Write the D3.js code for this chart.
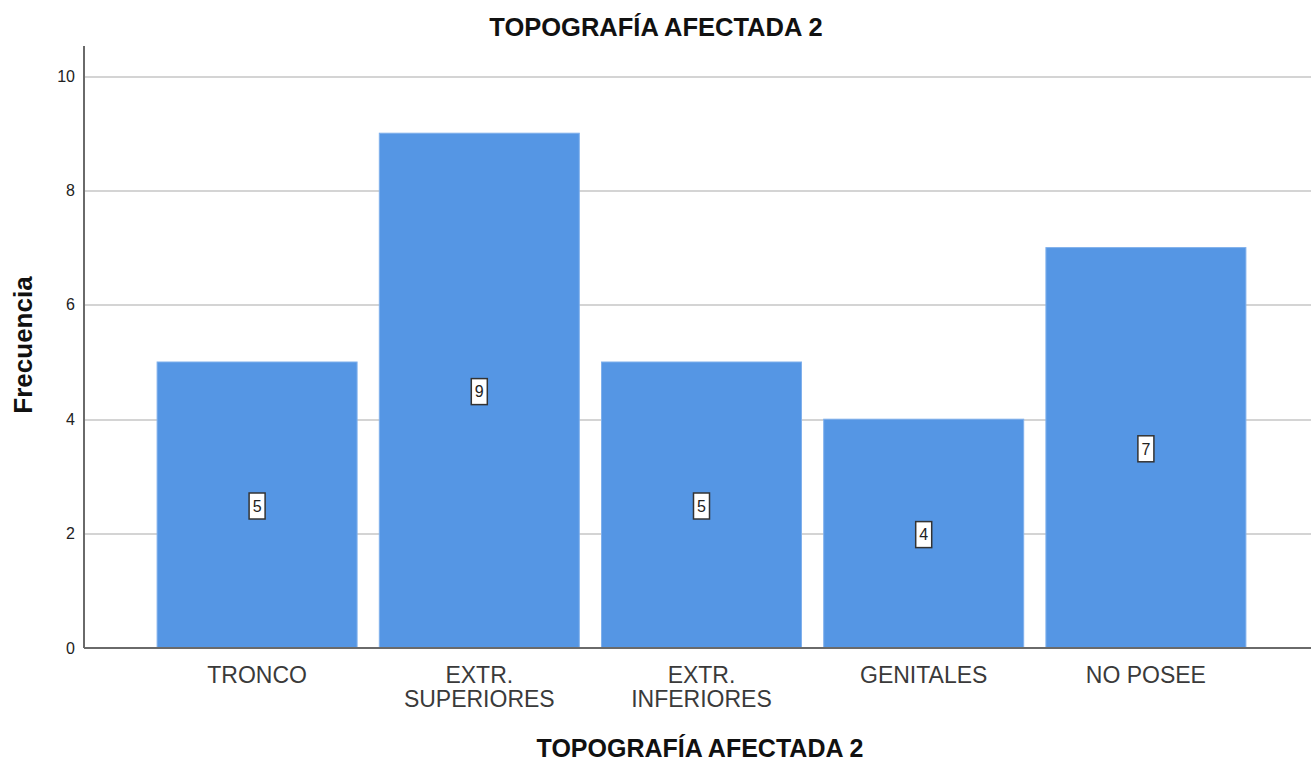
<!DOCTYPE html>
<meta charset="utf-8">
<style>
  body { margin: 0; background: #fff; }
  text { font-family: "Liberation Sans", Arial, sans-serif; }
  .grid line { stroke: #d4d4d4; stroke-width: 2px; shape-rendering: crispEdges; }
  .grid path { stroke-width: 0; }
  .bar { fill: #5596e4; stroke: #7fb0ec; stroke-width: 1px; }
</style>
<body>
<script src="https://d3js.org/d3.v7.min.js"></script>
<div id="chart"></div>
<script>
var categories = ["TRONCO", "EXTR. SUPERIORES", "EXTR. INFERIORES", "GENITALES", "NO POSEE"];
var categoryLines = [["TRONCO"], ["EXTR.", "SUPERIORES"], ["EXTR.", "INFERIORES"], ["GENITALES"], ["NO POSEE"]];
var counts = [5, 9, 5, 4, 7];
var yTicks = [0, 2, 4, 6, 8, 10];

var width = 1311, height = 762;
var plotLeft = 84, plotTop = 46, plotBottom = 648;

var svg = d3.select("#chart").append("svg")
    .attr("width", width)
    .attr("height", height);

var x = d3.scaleBand()
    .domain(categories)
    .range([146, 1257])
    .paddingInner(0.1)
    .paddingOuter(0.05);

var y = d3.scaleLinear()
    .domain([0, 10])
    .range([plotBottom, 76]);

// gridlines
svg.append("g")
    .attr("class", "grid")
    .attr("transform", "translate(" + plotLeft + ",0)")
    .call(d3.axisLeft(y).tickValues(yTicks.filter(function(d) { return d > 0; }))
        .tickSize(-(width - plotLeft))
        .tickFormat(""));

// bars
svg.append("g")
  .selectAll("rect")
  .data(counts)
  .enter()
  .append("rect")
    .attr("class", "bar")
    .attr("x", function(d, i) { return x(categories[i]); })
    .attr("y", function(d) { return y(d); })
    .attr("width", x.bandwidth())
    .attr("height", function(d) { return y(0) - y(d); });

// value labels in boxes
var lab = svg.append("g")
  .selectAll("g")
  .data(counts)
  .enter()
  .append("g")
    .attr("transform", function(d, i) {
      return "translate(" + (x(categories[i]) + x.bandwidth() / 2) + "," + (y(d / 2) + 1) + ")";
    });
lab.append("rect")
    .attr("x", -8).attr("y", -13)
    .attr("width", 16).attr("height", 26)
    .attr("fill", "#fff")
    .attr("stroke", "#333")
    .attr("stroke-width", 1.5);
lab.append("text")
    .attr("text-anchor", "middle")
    .attr("dy", "0.36em")
    .style("font-size", "16px")
    .attr("fill", "#222")
    .text(function(d) { return d; });

// y axis
var gy = svg.append("g")
    .attr("transform", "translate(" + plotLeft + ",0)")
    .call(d3.axisLeft(y).tickValues(yTicks).tickSize(0).tickPadding(9));
gy.select(".domain").remove();
gy.selectAll("text")
    .attr("fill", "#222")
    .style("font-size", "16px")
    .style("font-family", "'Liberation Sans', Arial, sans-serif");
svg.append("line")
    .attr("x1", plotLeft).attr("x2", plotLeft)
    .attr("y1", plotTop).attr("y2", plotBottom)
    .attr("stroke", "#6a6a6a").attr("stroke-width", 2);

// x axis
svg.append("line")
    .attr("x1", plotLeft).attr("x2", width)
    .attr("y1", plotBottom).attr("y2", plotBottom)
    .attr("stroke", "#6a6a6a").attr("stroke-width", 2);

svg.append("g")
  .selectAll("text")
  .data(categoryLines)
  .enter()
  .append("text")
    .attr("text-anchor", "middle")
    .style("font-size", "23px")
    .attr("fill", "#3a3a3a")
    .attr("x", function(d, i) { return x(categories[i]) + x.bandwidth() / 2; })
    .attr("y", 683)
  .selectAll("tspan")
  .data(function(d) { return d; })
  .enter()
  .append("tspan")
    .attr("x", function() { return d3.select(this.parentNode).attr("x"); })
    .attr("dy", function(d, j) { return j === 0 ? 0 : 24; })
    .text(function(d) { return d; });

// titles
svg.append("text")
    .attr("x", 656).attr("y", 36)
    .attr("text-anchor", "middle")
    .style("font-size", "25.5px")
    .attr("font-weight", "bold")
    .attr("fill", "#111")
    .text("TOPOGRAFÍA AFECTADA 2");

svg.append("text")
    .attr("x", 700).attr("y", 757)
    .attr("text-anchor", "middle")
    .style("font-size", "25px")
    .attr("font-weight", "bold")
    .attr("fill", "#111")
    .text("TOPOGRAFÍA AFECTADA 2");

svg.append("text")
    .attr("transform", "translate(32,345) rotate(-90)")
    .attr("text-anchor", "middle")
    .style("font-size", "26px")
    .attr("font-weight", "bold")
    .attr("fill", "#111")
    .text("Frecuencia");
</script>
</body>
</html>
